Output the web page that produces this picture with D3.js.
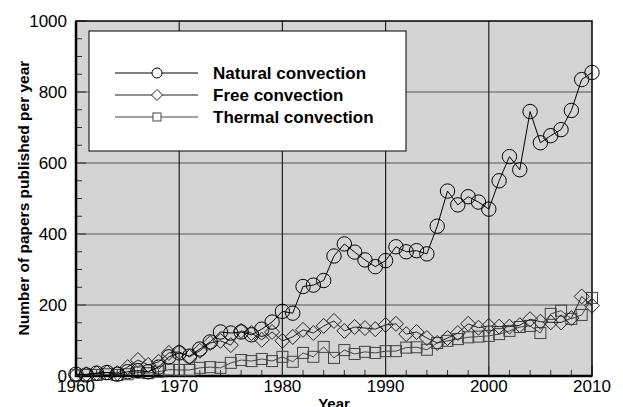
<!DOCTYPE html>
<html><head><meta charset="utf-8">
<script src="https://cdn.jsdelivr.net/npm/d3@7"></script>
<style>body{margin:0;background:#fff}svg{display:block}</style>
</head><body>
<svg id="c" width="623" height="407"></svg>
<script>
const years = d3.range(1960, 2011);
const natural = [5,3,8,10,5,12,15,12,25,54, 65,56,76,96,124,121,124,116,132,152, 182,177,252,256,269,338,372,349,327,308, 325,364,350,353,344,422,521,482,505,490, 470,550,618,581,745,657,677,694,748,835,855];
const free = [3,5,8,10,8,25,45,31,40,65, 68,54,71,93,99,87,127,121,102,124, 99,110,130,121,141,155,127,138,135,132, 144,147,118,124,107,93,107,121,147,136, 141,139,139,143,160,153,151,151,163,224,198];
const thermal = [2,3,3,5,3,5,10,8,12,18, 17,17,23,25,23,37,45,42,48,42, 54,40,65,54,82,51,73,62,68,65, 70,70,80,81,74,93,99,104,109,111, 113,118,127,138,141,121,175,184,161,172,220];
const seriesNames = ["Natural convection","Free convection","Thermal convection"];
const xTicks = [1960,1970,1980,1990,2000,2010];
const yTicks = [0,200,400,600,800,1000];

const svg = d3.select("#c");
const L=76,R=592,T=21,B=376;
const x = d3.scaleLinear().domain([1960,2010]).range([L,R]);
const y = d3.scaleLinear().domain([0,1000]).range([B,T]);
const font = "Liberation Sans, Arial, sans-serif";

svg.append("rect").attr("x",L).attr("y",T).attr("width",R-L).attr("height",B-T).attr("fill","#d4d4d4");

// grid
svg.append("g").selectAll("line").data(yTicks.slice(1,-1)).join("line")
  .attr("x1",L).attr("x2",R).attr("y1",d=>y(d)).attr("y2",d=>y(d)).attr("stroke","#555").attr("stroke-width",1.2);
svg.append("g").selectAll("line").data(xTicks.slice(1,-1)).join("line")
  .attr("y1",T).attr("y2",B).attr("x1",d=>x(d)).attr("x2",d=>x(d)).attr("stroke","#222").attr("stroke-width",1.2);

// minor ticks
const yMinor = d3.range(0,1001,50);
svg.append("g").selectAll("line").data(yMinor).join("line")
  .attr("x1",L).attr("x2",d=>L+(d%200===0?10:6)).attr("y1",d=>y(d)).attr("y2",d=>y(d)).attr("stroke","#333").attr("stroke-width",1);
const xMinor = d3.range(1960,2011,2);
svg.append("g").selectAll("line").data(xMinor).join("line")
  .attr("y1",B).attr("y2",d=>B-(d%10===0?10:6)).attr("x1",d=>x(d)).attr("x2",d=>x(d)).attr("stroke","#333").attr("stroke-width",1);

// frame
svg.append("rect").attr("x",L).attr("y",T).attr("width",R-L).attr("height",B-T).attr("fill","none").attr("stroke","#000").attr("stroke-width",1.5);
svg.append("line").attr("x1",L).attr("x2",L).attr("y1",T).attr("y2",B+1).attr("stroke","#000").attr("stroke-width",2.5);
svg.append("line").attr("x1",L-1).attr("x2",R).attr("y1",B).attr("y2",B).attr("stroke","#000").attr("stroke-width",2.5);

// axis labels
svg.append("g").selectAll("text").data(yTicks).join("text")
  .attr("x",L-9).attr("y",d=>y(d)+6).attr("text-anchor","end")
  .attr("font-family",font).attr("font-size",17).text(d=>d);
svg.append("g").selectAll("text").data(xTicks).join("text")
  .attr("x",d=>x(d)).attr("y",392).attr("text-anchor","middle")
  .attr("font-family",font).attr("font-size",17).text(d=>d);
svg.append("text").attr("x",(L+R)/2).attr("y",409).attr("text-anchor","middle")
  .attr("font-family",font).attr("font-size",15).attr("font-weight","bold").text("Year");
svg.append("text").attr("transform",`translate(29,198) rotate(-90)`).attr("text-anchor","middle")
  .attr("font-family",font).attr("font-size",15.5).attr("font-weight","bold").text("Number of papers published per year");

// series
const colors = ["#000","#222","#444"];
const data = [natural, free, thermal];
const line = d3.line().x((d,i)=>x(years[i])).y(d=>y(d));
function marker(g, k, cx, cy){
  if(k===0) g.append("circle").attr("cx",cx).attr("cy",cy).attr("r",7.2);
  else if(k===1) g.append("path").attr("d",`M${cx},${cy-7.5}L${cx+7.5},${cy}L${cx},${cy+7.5}L${cx-7.5},${cy}Z`);
  else g.append("rect").attr("x",cx-5.5).attr("y",cy-5.5).attr("width",11).attr("height",11);
}
[2,1,0].forEach(k=>{
  const g = svg.append("g").attr("fill","none").attr("stroke",colors[k]).attr("stroke-width",1);
  g.append("path").attr("d",line(data[k]));
  data[k].forEach((v,i)=>marker(g,k,x(years[i]),y(v)));
});

// legend
svg.append("rect").attr("x",89).attr("y",31).attr("width",317).attr("height",120).attr("fill","#fff").attr("stroke","#000").attr("stroke-width",1);
seriesNames.forEach((n,k)=>{
  const yy = 73 + k*22;
  const g = svg.append("g").attr("fill","#fff").attr("stroke",colors[k]).attr("stroke-width",1);
  g.append("line").attr("x1",115).attr("x2",198).attr("y1",yy).attr("y2",yy);
  if(k===0) g.append("circle").attr("cx",157).attr("cy",yy).attr("r",5);
  else if(k===1) g.append("path").attr("d",`M157,${yy-5.5}L162.5,${yy}L157,${yy+5.5}L151.5,${yy}Z`);
  else g.append("rect").attr("x",153).attr("y",yy-4).attr("width",8).attr("height",8);
  svg.append("text").attr("x",213).attr("y",yy+6).attr("font-family",font).attr("font-size",17)
    .attr("font-weight","bold").text(n);
});
</script>
</body></html>
